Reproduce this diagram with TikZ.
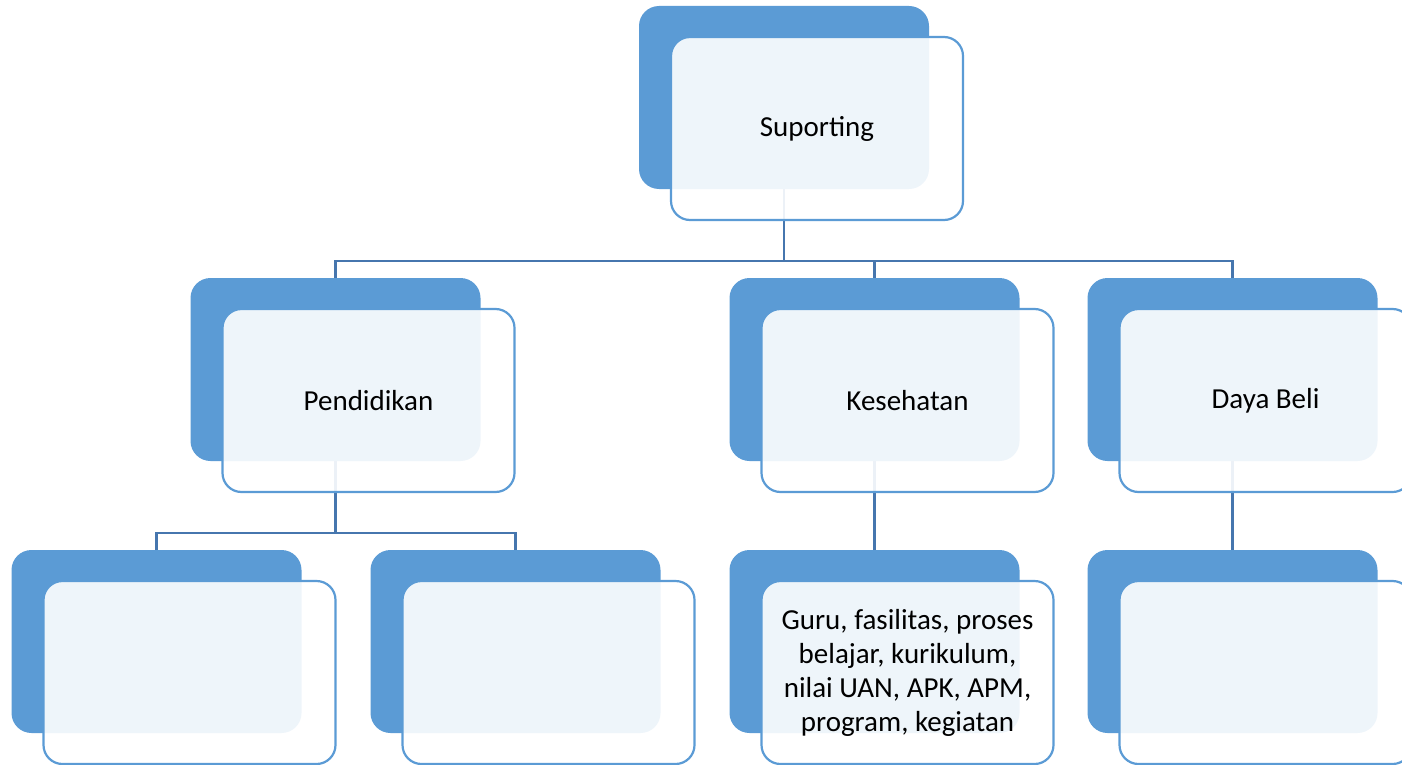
\documentclass[tikz,border=0pt]{standalone}
\usepackage{fontspec}
\setmainfont{Carlito}
\usetikzlibrary{backgrounds}
\definecolor{accent}{HTML}{5B9BD5}
\definecolor{linkc}{HTML}{4676AE}
\begin{document}
\begin{tikzpicture}[x=1pt,y=-1pt,
  backbox/.style={fill=accent, draw=none, rounded corners=20pt,
    minimum width=290pt, minimum height=183pt, inner sep=0pt},
  frontbox/.style={fill=white, fill opacity=0.9, text opacity=1,
    draw=accent, line width=2.2pt, rounded corners=19pt,
    minimum width=292pt, minimum height=183pt, inner sep=0pt,
    align=center, text=black, font=\fontsize{29}{34}\selectfont,
    xshift=33pt, yshift=-31pt},
  link/.style={draw=linkc, line width=2.4pt}]
\useasboundingbox (0,0) rectangle (1402,765);
\clip (0,0) rectangle (1402,765);

% top level
\node[backbox] (b0) at (784,97.5) {};
\node[frontbox, at={(b0.center)}] (f0) {Suporting};

% second level
\node[backbox] (b1) at (335.5,369.5) {};
\node[frontbox, at={(b1.center)}] (f1) {Pendidikan};
\node[backbox] (b2) at (874.5,369.5) {};
\node[frontbox, at={(b2.center)}] (f2) {Kesehatan};
\node[backbox] (b3) at (1232.5,369.5) {};
\node[frontbox, at={(b3.center)}] (f3) {Daya Beli};

% third level
\node[backbox] (b4) at (156.5,641.5) {};
\node[frontbox, at={(b4.center)}] (f4) {};
\node[backbox] (b5) at (515.5,641.5) {};
\node[frontbox, at={(b5.center)}] (f5) {};
\node[backbox] (b6) at (874.5,641.5) {};
\node[frontbox, at={(b6.center)}] (f6) {Guru, fasilitas, proses\\belajar, kurikulum,\\nilai UAN, APK, APM,\\program, kegiatan};
\node[backbox] (b7) at (1232.5,641.5) {};
\node[frontbox, at={(b7.center)}] (f7) {};

% bus junctions
\coordinate (j0) at (784,261);
\coordinate (j1) at (335.5,533);

\begin{pgfonlayer}{background}
  \draw[link] (b0.south) -- (j0) -| (b1.north);
  \draw[link] (j0) -| (b2.north);
  \draw[link] (j0) -| (b3.north);
  \draw[link] (b1.south) -- (j1) -| (b4.north);
  \draw[link] (j1) -| (b5.north);
  \draw[link] (b2.south) -- (b6.north);
  \draw[link] (b3.south) -- (b7.north);
\end{pgfonlayer}
\end{tikzpicture}
\end{document}
